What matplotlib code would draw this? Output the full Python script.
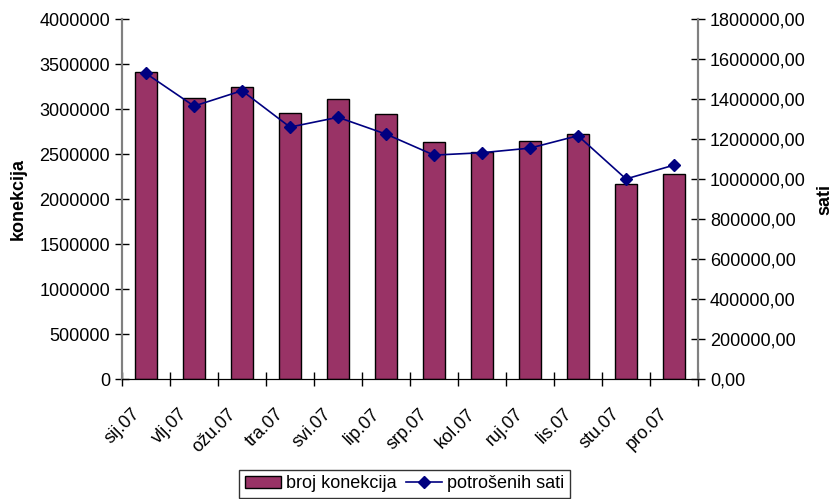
import matplotlib
matplotlib.use("Agg")
import matplotlib.pyplot as plt
from matplotlib.ticker import FuncFormatter
import matplotlib.transforms as mtransforms

plt.rcParams['font.family'] = ['Liberation Sans', 'DejaVu Sans']

# months (Croatian abbreviations)
months = ['sij.07', 'vlj.07', 'ožu.07', 'tra.07', 'svi.07', 'lip.07',
          'srp.07', 'kol.07', 'ruj.07', 'lis.07', 'stu.07', 'pro.07']

# number of connections (left axis)
konekcije = [3410000, 3125000, 3250000, 2955000, 3110000, 2940000,
             2630000, 2525000, 2650000, 2725000, 2170000, 2280000]

# hours spent (right axis)
sati = [1528000, 1365000, 1442000, 1260000, 1309000, 1225000,
        1120000, 1132000, 1155000, 1217000, 1001000, 1070000]

left_ticks = [0, 500000, 1000000, 1500000, 2000000, 2500000, 3000000, 3500000, 4000000]
right_ticks = [0, 200000, 400000, 600000, 800000, 1000000, 1200000, 1400000, 1600000, 1800000]

fig = plt.figure(figsize=(8.34, 4.99), dpi=100)
ax = fig.add_axes([0.1463, 0.2399, 0.6906, 0.7220])
x = list(range(len(months)))

bars = ax.bar(x, konekcije, width=0.44, color='#993366', edgecolor='black',
              linewidth=1, label='broj konekcija', zorder=2)
ax.set_xlim(-0.5, len(months) - 0.5)
ax.set_ylim(0, 4000000)
ax.set_yticks(left_ticks)
ax.set_yticklabels([str(v) for v in left_ticks])
ax.set_ylabel('konekcija', fontsize=13, fontweight='bold', labelpad=9)

# ticks between categories, labels drawn at category centres (Excel style)
ax.set_xticks([i - 0.5 for i in range(len(months) + 1)])
ax.set_xticklabels([])
ax.tick_params(axis='x', direction='inout', length=10, width=1)
ax.tick_params(axis='y', direction='inout', length=10, width=1, labelsize=13)

lab_trans = ax.get_xaxis_transform() + mtransforms.ScaledTranslation(-9 / 100, -32 / 100, fig.dpi_scale_trans)
for i, m in enumerate(months):
    ax.text(i, 0, m, transform=lab_trans, rotation=45, rotation_mode='anchor',
            ha='right', va='center', fontsize=13)

ax2 = ax.twinx()
ln, = ax2.plot(x, sati, color='#000080', marker='D', markersize=6, linewidth=1.2,
               label='potrošenih sati', zorder=3)
ax2.set_ylim(0, 1800000)
ax2.set_yticks(right_ticks)
ax2.yaxis.set_major_formatter(FuncFormatter(lambda v, p: '%d,00' % v))
ax2.tick_params(axis='y', direction='inout', length=10, width=1, labelsize=13)
ax2.set_ylabel('sati', fontsize=13, fontweight='bold', labelpad=8)

for a in (ax, ax2):
    a.spines['top'].set_visible(False)
    a.spines['left'].set_color('#808080')
    a.spines['right'].set_color('#808080')
    a.spines['bottom'].set_color('black')
    a.spines['left'].set_linewidth(1.5)
    a.spines['right'].set_linewidth(1.5)

leg = fig.legend(handles=[bars, ln], labels=['broj konekcija', 'potrošenih sati'],
                 loc='upper center', bbox_to_anchor=(0.485, 0.058), ncol=2,
                 fontsize=13, frameon=True, fancybox=False, edgecolor='black',
                 handlelength=2.0, handletextpad=0.3, columnspacing=0.5,
                 borderpad=0.3, borderaxespad=0)
leg.get_frame().set_linewidth(1)

fig.savefig('out.png', dpi=100)
